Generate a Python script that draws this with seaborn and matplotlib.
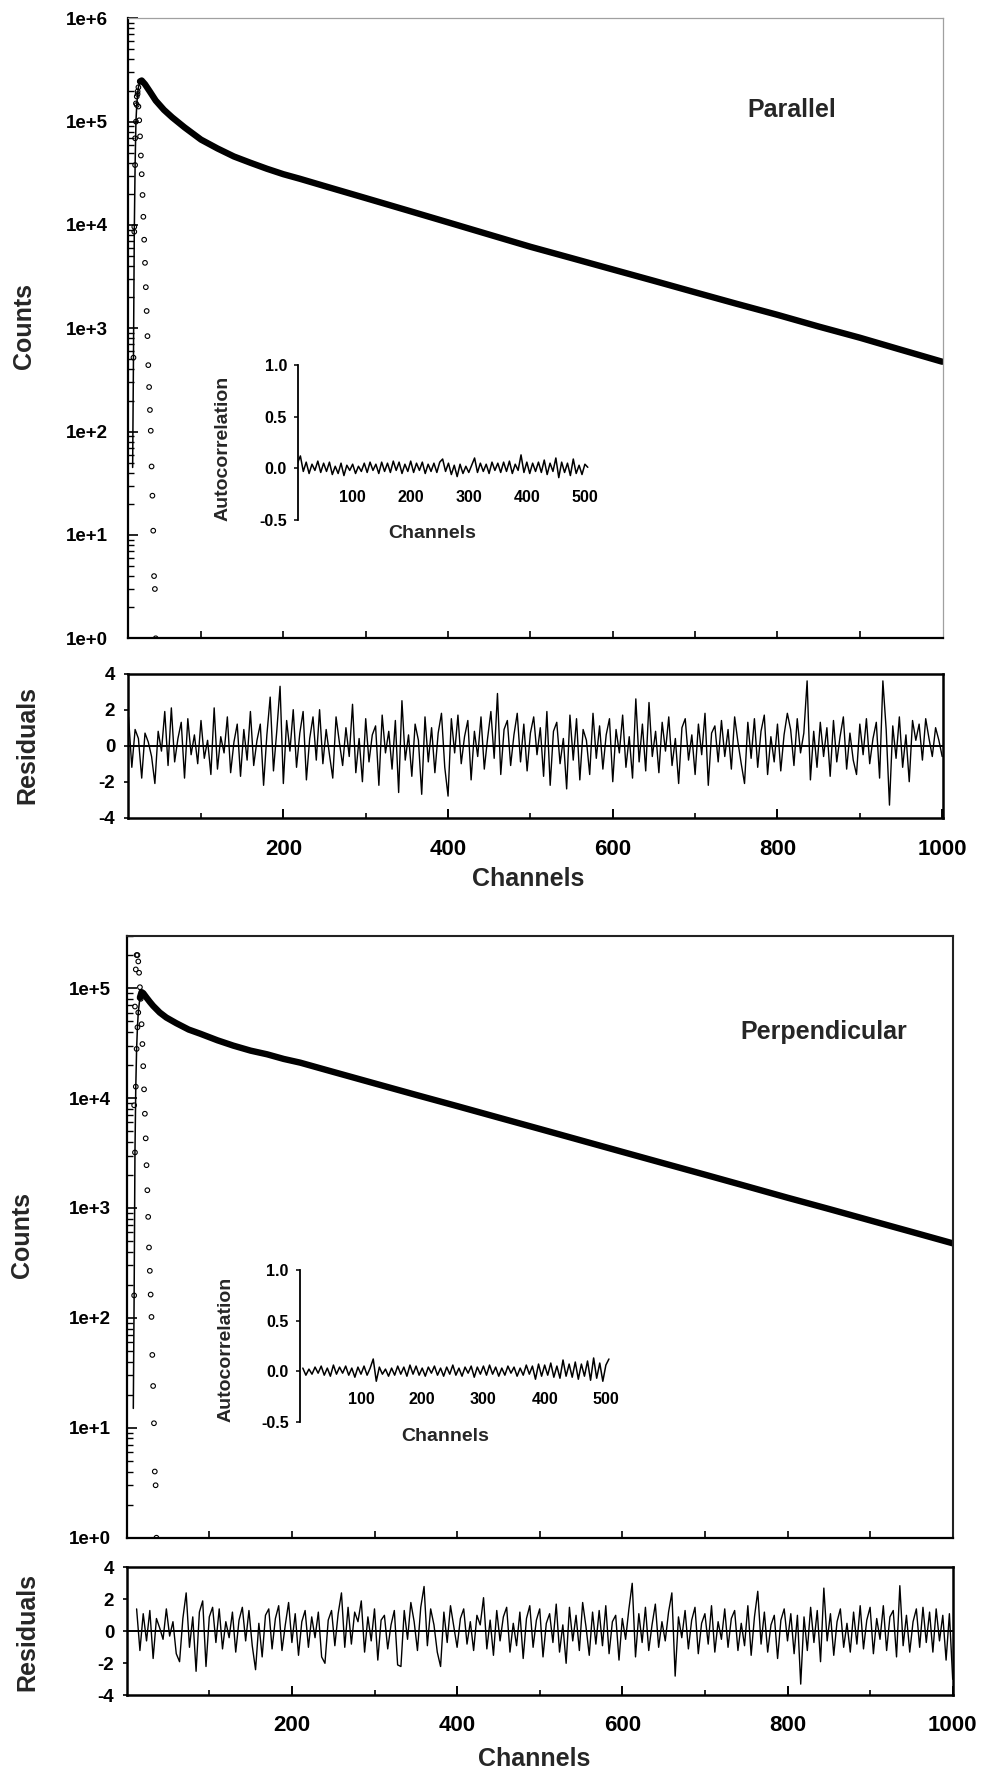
import numpy as np
import matplotlib
matplotlib.use("Agg")
import matplotlib.pyplot as plt
import seaborn as sns
from matplotlib.ticker import FixedLocator, LogLocator, NullFormatter

sns.set_theme(style="ticks")
plt.rcParams["font.family"] = ["Liberation Sans", "DejaVu Sans"]
plt.rcParams["font.weight"] = "bold"
plt.rcParams["axes.labelweight"] = "bold"

# ------------------------------------------------------------------ data
# Parallel decay (fit / data band)
decay1_ch = [17, 18, 19, 20, 21, 22, 23, 24, 26, 28, 32, 38, 45, 55, 65, 80, 100, 120, 140, 160,
             180, 200, 220, 250, 300, 350, 400, 450, 500, 550, 600, 650, 700, 750, 800, 850, 900, 950, 1000]
decay1 = [45, 520, 8.6e3, 3.8e4, 1.0e5, 1.45e5, 1.85e5, 2.15e5, 2.45e5, 2.5e5,
          2.3e5, 1.95e5, 1.6e5, 1.3e5, 1.1e5, 8.8e4, 6.7e4, 5.5e4, 4.6e4, 4.0e4,
          3.5e4, 3.1e4, 2.8e4, 2.38e4, 1.82e4, 1.39e4, 1.06e4, 8.07e3, 6.15e3, 4.78e3,
          3.71e3, 2.88e3, 2.23e3, 1.73e3, 1.35e3, 1.04e3, 811, 620, 475]
# Parallel instrument response (open circles)
irf1_start = 19
irf1 = [9.6e3, 6.9e4, 1.5e5, 1.75e5, 1.96e5, 1.40e5, 1.03e5, 7.2e4, 4.7e4, 3.1e4, 1.95e4, 1.2e4,
        7.2e3, 4.3e3, 2.5e3, 1.47e3, 840, 440, 270, 162, 102, 46, 24, 11, 4, 3, 1]

# Perpendicular decay
decay2_ch = [8, 9, 10, 11, 12, 13, 14, 16, 18, 20, 24, 28, 32, 40, 48, 60, 75, 89, 110, 129,
             150, 170, 190, 210, 250, 300, 350, 400, 450, 500, 550, 600, 650, 700, 750, 800, 850, 900, 950, 1000]
decay2 = [15, 160, 3.2e3, 1.27e4, 2.8e4, 4.4e4, 6.0e4, 8.2e4, 9.2e4, 9.0e4,
          8.2e4, 7.5e4, 6.9e4, 6.0e4, 5.4e4, 4.8e4, 4.2e4, 3.85e4, 3.35e4, 3.0e4,
          2.7e4, 2.5e4, 2.27e4, 2.1e4, 1.73e4, 1.36e4, 1.07e4, 8.45e3, 6.65e3, 5.24e3,
          4.12e3, 3.24e3, 2.55e3, 2.01e3, 1.58e3, 1.24e3, 980, 771, 607, 477]
irf2_start = 9
irf2 = [8.6e3, 6.8e4, 1.48e5, 2.0e5, 2.0e5, 1.75e5, 1.38e5, 1.02e5, 8.0e4, 4.7e4, 3.1e4, 1.95e4,
        1.2e4, 7.2e3, 4.3e3, 2.45e3, 1.45e3, 830, 437, 268, 163, 102, 46, 24, 11, 4, 3, 1]

# Weighted residuals (every 4th channel from channel 12)
res_start, res_step = 12, 4
res1 = [1.6, -1.2, 0.9, 0.4, -1.8, 0.7, 0.2, -0.6, -2.1, 0.8, -0.3, 1.9, -1.1, 2.1, -0.9, 0.4, 1.3, -1.8, 1.5, -0.5,
        0.6, -1.0, 1.4, -0.7, 0.3, -1.6, 2.1, -1.3, 0.5, -0.4, 1.6, -1.5, 0.2, 1.2, -1.7, 0.9, -0.8, 1.9, -1.1, 0.3,
        1.2, -2.2, 0.6, 2.7, -1.4, 0.8, 3.3, -2.1, 1.4, -0.3, 2.0, -1.2, 0.7, 1.9, -1.9, 0.4, 1.6, -0.8, 2.0, -1.0,
        0.9, -0.5, -1.8, 1.6, 0.2, -1.1, 1.0, -0.6, 2.3, -1.5, 0.4, -2.0, 1.5, -0.9, 0.6, 1.1, -2.2, 1.7, -0.4, 0.8,
        -1.3, 1.4, -2.6, 2.5, -0.8, 0.6, -1.7, 1.2, 0.3, -2.7, 1.6, -0.9, 1.0, -1.5, 0.7, 1.8, -1.2, -2.8, 1.5, -0.4,
        1.7, -1.0, 0.5, 1.4, -1.9, 0.8, -0.6, 1.6, -1.3, 0.4, 1.9, -0.7, 2.9, -1.6, 0.9, 1.4, -1.1, 0.6, 1.8, -0.9,
        1.2, -1.4, 0.7, 1.6, -0.5, 1.0, -1.7, 1.9, -2.2, 0.8, 1.3, -1.0, 0.4, -2.4, 1.7, -0.8, 1.5, -1.9, 0.9, 0.3,
        -1.6, 1.8, -0.7, 1.1, -1.3, 0.6, 1.5, -2.0, 0.9, -0.4, 1.7, -1.2, 0.5, -1.8, 2.6, -0.9, 1.2, -1.4, 2.4, -0.6,
        0.8, -1.5, 1.3, -0.3, 1.6, -1.1, 0.4, -2.1, 1.0, 1.5, -0.8, 0.6, -1.6, 1.2, -0.5, 1.8, -2.2, 0.7, 1.1, -0.9,
        1.4, -0.6, 0.9, -1.3, 1.6, 0.2, -1.0, -2.1, 1.3, -0.7, 1.5, -1.2, 0.8, 1.7, -1.6, 0.5, -0.9, 1.2, -1.4, 0.6,
        1.8, 0.9, -1.1, 1.5, -0.4, 0.7, 3.6, -1.9, 0.8, -1.2, 1.3, -0.6, 1.0, -1.7, 1.4, -0.9, 0.5, 1.6, -1.3, 0.7,
        -0.8, -1.6, 1.2, -0.5, 1.5, -1.0, 0.4, 1.3, -1.8, 3.6, 0.9, -3.3, 1.1, -0.7, 1.6, -1.2, 0.6, -2.0, 1.4, 0.3,
        1.2, -0.8, 1.5, 0.4, -0.6, 1.0, 0.3, -0.6]
res2 = [1.4, -1.2, 1.1, -0.6, 1.3, -1.7, 0.8, 0.2, -0.5, 1.4, -0.3, 0.6, -1.4, -1.9, 0.8, 2.4, -1.0, 0.9, -2.5, 1.2,
        1.9, -2.2, 0.9, 1.5, -0.7, 1.4, -1.1, 0.6, -0.4, 1.2, -1.3, 0.7, 1.5, -0.6, 1.3, -0.9, -2.4, 0.5, -1.6, 1.0,
        1.4, -1.1, 0.8, 1.6, -1.2, 0.4, 1.8, -0.7, 1.1, -1.5, 0.6, 1.3, -1.0, 0.9, -0.4, 1.2, -1.6, -2.0, 0.7, 1.3,
        -0.9, 1.1, 2.4, -1.0, 1.5, -0.8, 1.2, 0.6, 1.9, -1.3, 0.9, -0.6, 1.4, -1.8, 0.7, 1.0, -1.1, 0.4, 1.3, -2.1,
        -2.2, 1.3, -0.5, 1.8, 0.6, -1.2, 1.5, 2.8, -0.9, 1.4, 0.4, -1.3, -2.2, 1.2, -0.7, 1.6, 0.3, -1.0, 0.8, 1.4,
        -0.8, 0.6, -1.2, 1.0, 0.4, 2.1, -1.1, 0.7, -1.5, 1.3, -0.6, 0.9, 1.5, -1.3, 0.5, -0.9, 1.2, -1.7, 0.8, 1.6,
        -1.0, 0.7, 1.4, -1.6, 0.5, 1.1, -0.7, 1.7, -1.3, 0.4, -2.0, 1.5, -0.6, 1.0, -1.2, 1.8, 0.3, -1.5, 1.2, -0.8,
        1.3, -0.9, 1.6, -1.4, 0.6, 1.0, -1.8, 0.8, -0.5, 1.4, 3.0, -1.6, 1.1, -0.7, 1.5, -1.2, 0.4, 1.7, -1.0, 0.6,
        -0.6, 1.2, 2.4, -2.8, 0.9, -0.4, 1.3, -1.1, 0.7, 1.5, -1.4, 0.5, 1.1, -0.8, 1.6, -1.3, 0.6, -0.5, 1.4, -1.0,
        0.8, 1.3, -1.2, 0.5, -0.9, 1.6, -1.5, 0.9, 2.5, -0.8, 1.2, -1.3, 0.4, 1.0, -1.7, 0.7, 1.4, -0.6, 1.1, -1.4,
        1.0, -3.3, 0.9, -1.2, 1.5, -0.7, 1.3, -1.9, 2.7, -0.6, 1.1, -1.5, 0.6, 1.4, -1.0, 0.5, -1.3, 1.2, -0.8, 1.6,
        -1.1, 0.7, 1.5, -1.4, 0.8, -0.5, 1.6, -1.2, 0.9, 1.3, -1.6, 2.85, -0.9, 1.0, -1.3, 0.6, 1.4, -1.0, 1.5, -0.7,
        1.2, -1.3, 1.4, -0.6, 1.0, -1.8, 1.1, -3.0]

# Autocorrelation of residuals (every 5th channel from channel 5)
ac_start, ac_step = 5, 5
ac1 = [0.05, 0.12, -0.03, 0.06, -0.05, 0.04, -0.02, 0.07, -0.04, 0.05,
       -0.03, 0.06, -0.06, 0.02, -0.05, 0.05, -0.07, 0.03, -0.02, 0.04,
       -0.05, 0.02, -0.03, 0.05, -0.04, 0.06, -0.02, 0.04, -0.05, 0.06,
       -0.03, 0.05, -0.04, 0.07, -0.02, 0.06, -0.05, 0.04, -0.03, 0.07,
       -0.04, 0.05, -0.02, 0.06, -0.05, 0.04, -0.03, 0.05, -0.04, 0.06,
       0.09, -0.03, 0.05, -0.06, 0.03, -0.08, 0.04, -0.05, 0.02, -0.04,
       0.03, 0.10, -0.04, 0.05, -0.03, 0.04, -0.05, 0.06, -0.02, 0.05,
       -0.04, 0.06, -0.03, 0.07, -0.05, 0.04, -0.02, 0.13, -0.04, 0.06,
       -0.05, 0.05, -0.03, 0.06, -0.04, 0.08, -0.06, 0.05, -0.03, 0.10,
       -0.09, 0.06, -0.04, 0.05, -0.07, 0.09, -0.05, 0.03, -0.06, 0.04,
       0.01]
ac2 = [0.03, -0.04, 0.02, -0.03, 0.04, -0.02, 0.05, -0.04, 0.03, -0.05,
       0.06, -0.03, 0.04, -0.02, 0.05, -0.04, 0.03, -0.06, 0.04, -0.03,
       0.05, -0.04, 0.03, 0.12, -0.10, 0.04, -0.03, 0.02, -0.05, 0.03,
       -0.04, 0.05, -0.03, 0.04, -0.05, 0.06, -0.03, 0.05, -0.04, 0.03,
       -0.05, 0.04, -0.02, 0.05, -0.04, 0.03, -0.05, 0.04, -0.03, 0.06,
       -0.04, 0.03, -0.05, 0.04, -0.02, 0.05, -0.06, 0.04, -0.03, 0.05,
       -0.04, 0.06, -0.03, 0.04, -0.05, 0.03, -0.04, 0.05, -0.02, 0.04,
       -0.05, 0.03, -0.04, 0.06, -0.03, 0.05, -0.08, 0.07, -0.05, 0.06,
       -0.04, 0.08, -0.06, 0.05, -0.07, 0.11, -0.05, 0.07, -0.06, 0.09,
       -0.08, 0.07, -0.05, 0.10, -0.09, 0.13, -0.07, 0.08, -0.10, 0.06,
       0.12]

count_ticks = [1, 10, 100, 1e3, 1e4, 1e5, 1e6]
count_labels = ["1e+0", "1e+1", "1e+2", "1e+3", "1e+4", "1e+5", "1e+6"]
res_ticks = [-4, -2, 0, 2, 4]
chan_major = [200, 400, 600, 800, 1000]
chan_minor = [100, 300, 500, 700, 900]
ac_yticks = [-0.5, 0.0, 0.5, 1.0]
ac_ylabels = ["-0.5", "0.0", "0.5", "1.0"]
ac_xticks = [100, 200, 300, 400, 500]

# ------------------------------------------------------------------ layout
W, H = 991, 1773
fig = plt.figure(figsize=(W / 100, H / 100), dpi=100)


def rect(l, t, r, b):
    return [l / W, 1 - b / H, (r - l) / W, (b - t) / H]


def ftext(x, y, s, **kw):
    fig.text(x / W, 1 - y / H, s, ha="center", va="center", fontweight="bold", **kw)


panels = [
    dict(main=rect(127.7, 18.3, 943, 638.3), resrect=rect(127.7, 673.7, 943, 817.7),
         ins=rect(298.3, 365, 590.7, 520), xlim=(11, 1001), ylim=(1, 1e6), ins_xlim=(6.4, 510),
         dch=decay1_ch, dv=decay1, irf=irf1, irf_start=irf1_start,
         resv=res1, ac=ac1, light=True, title="Parallel", title_xy=(792, 110),
         counts_xy=(24, 326), resid_xy=(27, 745), chan_xy=(528, 879),
         ylab_pad=14, res_xpad=15, inset_lbl=(0.457, -0.084), inset_ylab=(-0.2575, 0.465)),
    dict(main=rect(126.7, 935.7, 952.7, 1537.7), resrect=rect(126.7, 1567.3, 952.7, 1695.3),
         ins=rect(300, 1270, 612, 1421.7), xlim=(0, 1000), ylim=(1, 3e5), ins_xlim=(0.4, 510),
         dch=decay2_ch, dv=decay2, irf=irf2, irf_start=irf2_start,
         resv=res2, ac=ac2, light=False, title="Perpendicular", title_xy=(824, 1032),
         counts_xy=(22, 1235), resid_xy=(27, 1632), chan_xy=(534, 1759),
         ylab_pad=11.5, res_xpad=14, inset_lbl=(0.465, -0.099), inset_ylab=(-0.2356, 0.474)),
]

for p in panels:
    # ---------------- main decay axes
    ax = fig.add_axes(p["main"])
    dch = np.asarray(p["dch"], float)
    dv = np.asarray(p["dv"], float)
    ipk = int(np.argmax(dv))
    sns.lineplot(x=dch, y=dv, ax=ax, color="black", linewidth=1.1,
                 estimator=None, sort=False, legend=False)
    sns.lineplot(x=dch[ipk - 1:], y=dv[ipk - 1:], ax=ax, color="black", linewidth=4.6,
                 estimator=None, sort=False, legend=False, solid_capstyle="round")
    sns.scatterplot(x=dch[1:ipk], y=dv[1:ipk], ax=ax, marker="o", s=11, color="none",
                    edgecolor="black", linewidth=0.8, legend=False, zorder=4)
    irf = np.asarray(p["irf"], float)
    irf_ch = p["irf_start"] + np.arange(len(irf))
    sns.scatterplot(x=irf_ch, y=irf, ax=ax, marker="o", s=11, color="none",
                    edgecolor="black", linewidth=0.8, legend=False, zorder=4)
    ax.set_yscale("log")
    ax.set_xlim(*p["xlim"])
    ax.set_ylim(*p["ylim"])
    ax.yaxis.set_major_locator(FixedLocator(count_ticks))
    ax.set_yticklabels(count_labels)
    ax.yaxis.set_minor_locator(LogLocator(base=10, subs=np.arange(2, 10)))
    ax.yaxis.set_minor_formatter(NullFormatter())
    ax.set_xticks(np.arange(100, 1000, 100))
    ax.set_xticklabels([])
    ax.tick_params(axis="y", which="major", direction="in", length=7.2, width=1.2,
                   labelsize=13.5, pad=p["ylab_pad"], colors="black")
    ax.tick_params(axis="y", which="minor", direction="in", length=4.2, width=1.0, colors="black")
    ax.tick_params(axis="x", which="major", direction="in", length=4.8, width=1.2, colors="black")
    for lbl in ax.get_yticklabels():
        lbl.set_fontweight("bold")
    for side in ("left", "bottom"):
        ax.spines[side].set_linewidth(1.6)
        ax.spines[side].set_color("black")
    for side in ("top", "right"):
        if p["light"]:
            ax.spines[side].set_linewidth(0.9)
            ax.spines[side].set_color("#a0a0a0")
        else:
            ax.spines[side].set_linewidth(1.5)
            ax.spines[side].set_color("#222222")
    ax.set_xlabel("")
    ax.set_ylabel("")
    ftext(*p["title_xy"], p["title"], fontsize=18)
    ftext(*p["counts_xy"], "Counts", fontsize=18, rotation=90)

    # ---------------- residual axes
    ar = fig.add_axes(p["resrect"])
    rv = np.asarray(p["resv"], float)
    rch = res_start + res_step * np.arange(len(rv))
    ar.axhline(0, color="black", linewidth=1.4, zorder=1)
    sns.lineplot(x=rch, y=rv, ax=ar, color="black", linewidth=1.0,
                 estimator=None, sort=False, legend=False)
    ar.set_xlim(*p["xlim"])
    ar.set_ylim(-4, 4)
    ar.set_yticks(res_ticks)
    ar.set_yticklabels([str(t) for t in res_ticks])
    ar.set_xticks(chan_major)
    ar.set_xticklabels([str(t) for t in chan_major])
    ar.xaxis.set_minor_locator(FixedLocator(chan_minor))
    ar.tick_params(axis="y", direction="out", length=3, width=1.2, labelsize=13.5, pad=6, colors="black")
    ar.tick_params(axis="x", which="major", direction="in", length=6.5, width=1.4,
                   labelsize=16, pad=p["res_xpad"], colors="black")
    ar.tick_params(axis="x", which="minor", direction="in", length=3.6, width=1.2, colors="black")
    for lbl in ar.get_xticklabels() + ar.get_yticklabels():
        lbl.set_fontweight("bold")
    for side in ("left", "bottom", "top", "right"):
        ar.spines[side].set_linewidth(1.8)
        ar.spines[side].set_color("black")
    ar.set_xlabel("")
    ar.set_ylabel("")
    ftext(*p["resid_xy"], "Residuals", fontsize=18, rotation=90)
    ftext(*p["chan_xy"], "Channels", fontsize=18)

    # ---------------- autocorrelation inset
    ai = fig.add_axes(p["ins"])
    ai.patch.set_visible(False)
    av = np.asarray(p["ac"], float)
    ach = ac_start + ac_step * np.arange(len(av))
    sns.lineplot(x=ach, y=av, ax=ai, color="black", linewidth=1.1,
                 estimator=None, sort=False, legend=False)
    ai.set_xlim(*p["ins_xlim"])
    ai.set_ylim(-0.5, 1.0)
    ai.set_yticks(ac_yticks)
    ai.set_yticklabels(ac_ylabels)
    ai.set_xticks(ac_xticks)
    ai.set_xticklabels([str(t) for t in ac_xticks])
    ai.spines["bottom"].set_position(("data", -0.18))
    for side in ("top", "right", "bottom"):
        ai.spines[side].set_visible(False)
    ai.spines["left"].set_linewidth(1.3)
    ai.spines["left"].set_color("black")
    ai.tick_params(axis="y", direction="out", length=2.6, width=1.1, labelsize=11.5, pad=5.5, colors="black")
    ai.tick_params(axis="x", length=0, labelsize=11.5, pad=2, colors="black")
    for lbl in ai.get_xticklabels() + ai.get_yticklabels():
        lbl.set_fontweight("bold")
    ai.set_xlabel("")
    ai.set_ylabel("")
    ai.text(*p["inset_lbl"], "Channels", transform=ai.transAxes, ha="center", va="center",
            fontsize=14, fontweight="bold")
    ai.text(*p["inset_ylab"], "Autocorrelation", transform=ai.transAxes, ha="center", va="center",
            fontsize=14, fontweight="bold", rotation=90)

fig.savefig("out.png", dpi=100, facecolor="white")
